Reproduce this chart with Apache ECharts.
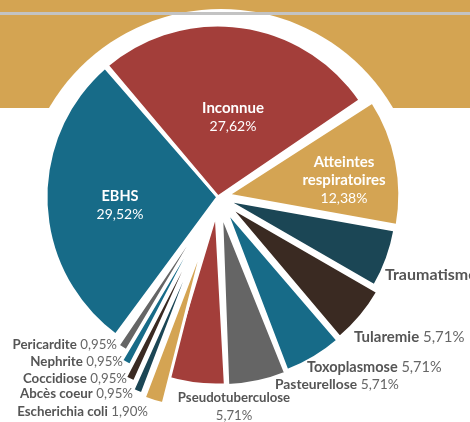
<!DOCTYPE html>
<html>
<head>
<meta charset="utf-8">
<script src="https://cdn.jsdelivr.net/npm/echarts@6/dist/echarts.min.js"></script>
<style>
  html, body { margin: 0; padding: 0; background: #ffffff; }
  #chart { width: 470px; height: 422px; }
</style>
</head>
<body>
<div id="chart"></div>
<script>
// Causes of mortality, share of cases (%)
const categories = [
  'EBHS', 'Inconnue', 'Atteintes respiratoires', 'Traumatisme', 'Tularemie',
  'Toxoplasmose', 'Pasteurellose', 'Pseudotuberculose', 'Escherichia coli',
  'Abcès coeur', 'Coccidiose', 'Nephrite', 'Pericardite'
];
const shares = [29.52, 27.62, 12.38, 5.71, 5.71, 5.71, 5.71, 5.71, 1.90, 0.95, 0.95, 0.95, 0.95];

// Slice palette
const TEAL = '#176b88', RED = '#a33e3a', GOLD = '#d4a453', INK = '#1b4655', BROWN = '#3a2a22', GREY = '#656565';
const sliceColors = [TEAL, RED, GOLD, INK, BROWN, TEAL, GREY, RED, GOLD, INK, BROWN, TEAL, GREY];

// Exploded-pie styling: how far each slice is pulled out (px) and a small turn (deg, clockwise)
const explode = [0, 0, 10, 8, 14, 15, 17, 16, 42, 39, 31, 18, 7];
const turn    = [0, 1, 2.5, 2.5, 2.5, 2, 1, 0, -2.5, -2.5, -2.5, -2.5, -2.5];

// Where each label sits, and its type size
const labelSpots = [
  { x: 120, y: 205, align: 'center', kind: 'inside', size: 14.5 },
  { x: 233, y: 117, align: 'center', kind: 'inside', size: 15 },
  { x: 344, y: 180, align: 'center', kind: 'inside', size: 15 },
  { x: 385, y: 275, align: 'left',   kind: 'side', size: 16 },
  { x: 354, y: 337, align: 'left',   kind: 'side', size: 15 },
  { x: 307, y: 367, align: 'left',   kind: 'side', size: 14.5 },
  { x: 275, y: 385, align: 'left',   kind: 'side', size: 13.8 },
  { x: 234, y: 407, align: 'center', kind: 'stack', size: 13.2 },
  { x: 148, y: 412, align: 'right',  kind: 'side', size: 13.3 },
  { x: 133, y: 394, align: 'right',  kind: 'side', size: 13.3 },
  { x: 127, y: 379, align: 'right',  kind: 'side', size: 13.3 },
  { x: 123, y: 362, align: 'right',  kind: 'side', size: 13.3 },
  { x: 117, y: 345, align: 'right',  kind: 'side', size: 13.3 }
];

const CENTER = [218, 197];
const RADIUS = 172;
const START = -126.5;
const FONT = 'Lato, "Noto Sans", sans-serif';

function pct(v) { return v.toFixed(2).replace('.', ',') + '%'; }

function labelText(i) {
  const spot = labelSpots[i];
  const name = categories[i];
  const val = pct(shares[i]);
  if (spot.kind === 'inside') {
    return name.split(' ').map(w => '{n|' + w + '}').join('\n') + '\n{v|' + val + '}';
  }
  if (spot.kind === 'stack') {
    return '{n|' + name + '}\n{v|' + val + '}';
  }
  return '{n|' + name + '} {v|' + val + '}';
}

function richFor(spot) {
  if (spot.kind === 'inside') {
    return {
      n: { fontFamily: FONT, fontWeight: 'bold', fontSize: spot.size, fill: '#ffffff', lineHeight: 18, align: 'center' },
      v: { fontFamily: FONT, fontWeight: 'normal', fontSize: 14, fill: '#ffffff', lineHeight: 18, align: 'center' }
    };
  }
  return {
    n: { fontFamily: FONT, fontWeight: 'bold', fontSize: spot.size, fill: '#555555', lineHeight: 18, align: spot.align },
    v: { fontFamily: FONT, fontWeight: 'normal', fontSize: spot.size, fill: '#666666', lineHeight: 18, align: spot.align }
  };
}

// One pie layer per slice so each slice can carry its own pull-out distance
const series = categories.map((name, i) => ({
  type: 'pie',
  name: name,
  center: CENTER,
  radius: [0, RADIUS],
  startAngle: START - turn[i],
  clockwise: true,
  silent: true,
  animation: false,
  selectedMode: 'single',
  selectedOffset: explode[i],
  emphasis: { disabled: true },
  z: 2,
  label: { show: false },
  labelLine: { show: false },
  data: categories.map((c, j) => {
    const own = j === i;
    return {
      name: c,
      value: shares[j],
      selected: own && explode[i] > 0,
      itemStyle: own
        ? { color: sliceColors[j], borderColor: '#ffffff', borderWidth: 3 }
        : { color: 'rgba(0,0,0,0)', opacity: 0, borderWidth: 0 }
    };
  })
}));

// Slice captions built from the same arrays
const captions = categories.map((c, i) => {
  const s = labelSpots[i];
  return {
    type: 'text',
    z: 60,
    silent: true,
    style: {
      text: labelText(i),
      x: s.x,
      y: s.y,
      align: s.align,
      verticalAlign: 'middle',
      fontFamily: FONT,
      fontSize: s.size,
      rich: richFor(s)
    }
  };
});

const chart = echarts.init(document.getElementById('chart'), null, { renderer: 'canvas' });
chart.setOption({
  backgroundColor: '#ffffff',
  animation: false,
  graphic: [
    { type: 'rect', z: 0, silent: true, shape: { x: 0, y: 0, width: 470, height: 108 }, style: { fill: '#d4a452' } },
    { type: 'circle', z: 1, silent: true, shape: { cx: 221, cy: 208, r: 199 }, style: { fill: '#ffffff' } },
    { type: 'rect', z: 50, silent: true, shape: { x: 0, y: 12, width: 470, height: 3 }, style: { fill: '#c3c3c3' } }
  ].concat(captions),
  series: series
});
</script>
</body>
</html>
